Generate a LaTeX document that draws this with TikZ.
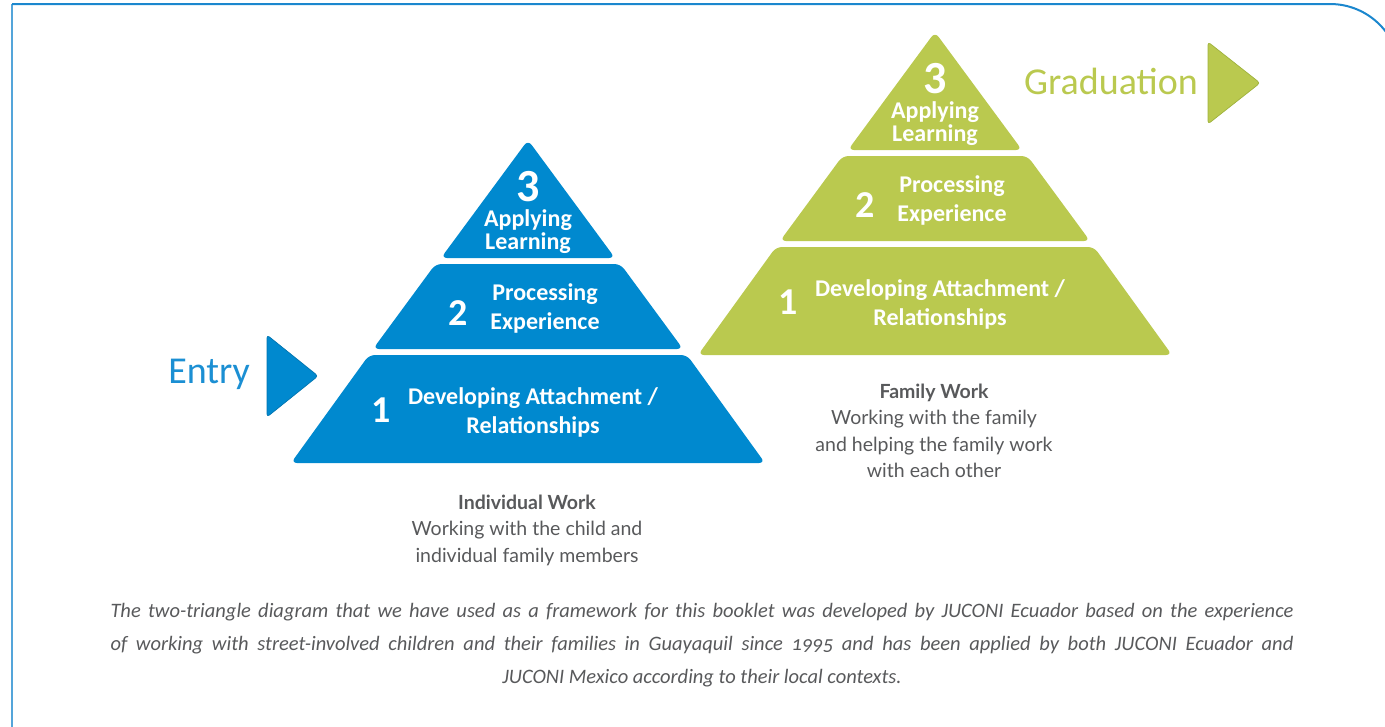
\documentclass[tikz,border=0pt]{standalone}
\usepackage{fontspec}
\setmainfont{Carlito}
\newfontfamily\latofont{Lato}
\usetikzlibrary{positioning}

\definecolor{jblue}{HTML}{0089CF}
\definecolor{jbluetext}{HTML}{1B8FD3}
\definecolor{jgreen}{HTML}{BAC94F}
\definecolor{jgreenline}{HTML}{9FB23C}
\definecolor{jframe}{HTML}{1B87CE}
\definecolor{jgray}{HTML}{58595B}

\begin{document}
\begin{tikzpicture}[x=1pt,y=-1pt,
    tier/.style={rounded corners=6pt},
    tiertext/.style={text=white,font=\fontsize{24}{29}\selectfont\bfseries,align=center},
    toptext/.style={text=white,font=\fontsize{24}{23}\selectfont\bfseries,align=center},
    tiernum/.style={text=white,font=\fontsize{38}{38}\selectfont\bfseries},
    topnum/.style={text=white,font=\fontsize{46}{46}\selectfont\bfseries},
    worktext/.style={text=jgray,font=\latofont\fontsize{19.5}{26.5}\selectfont,align=center},
    pointer/.style={line width=0.7pt,rounded corners=3pt}]

    \useasboundingbox (0,0) rectangle (1385,726);
    \clip (0,0) rectangle (1385,726);

    % frame
    \draw[jframe!75,line width=2.5pt] (12,740) -- (12,4);
    \draw[jframe,line width=2pt] (12,4) -- (1330,4)
        .. controls (1368.7,4) and (1400,35.3) .. (1400,74) -- (1400,760);

    % individual work pyramid
    \begin{scope}[shift={(528,150)}]
        \fill[jblue,tier] (0,-10) -- (87,108) -- (-87,108) -- cycle;
        \fill[jblue,tier] (-92.5,114) -- (92.5,114) -- (155,199) -- (-155,199) -- cycle;
        \fill[jblue,tier] (-159,205) -- (159,205) -- (237,313) -- (-237,313) -- cycle;

        \node[topnum] (bnum3) at (0,37) {3};
        \node[toptext] (blearn) at (0,82) {Applying\\Learning};
        \node[tiernum] (bnum2) at (-70,163) {2};
        \node[tiertext] (bproc) at (17,158) {Processing\\Experience};
        \node[tiernum] (bnum1) at (-147,260) {1};
        \node[tiertext] (battach) at (5,262) {Developing Attachment /\\Relationships};
    \end{scope}

    % family work pyramid
    \begin{scope}[shift={(935,42)}]
        \fill[jgreen,tier] (0,-10) -- (87,108) -- (-87,108) -- cycle;
        \fill[jgreen,tier] (-92.5,114) -- (92.5,114) -- (155,199) -- (-155,199) -- cycle;
        \fill[jgreen,tier] (-159,205) -- (159,205) -- (237,313) -- (-237,313) -- cycle;

        \node[topnum] (gnum3) at (0,37) {3};
        \node[toptext] (glearn) at (0,82) {Applying\\Learning};
        \node[tiernum] (gnum2) at (-70,163) {2};
        \node[tiertext] (gproc) at (17,158) {Processing\\Experience};
        \node[tiernum] (gnum1) at (-147,260) {1};
        \node[tiertext] (gattach) at (5,262) {Developing Attachment /\\Relationships};
    \end{scope}

    % entry and graduation pointers
    \filldraw[pointer,fill=jblue,draw=jblue!85!black] (267,335) -- (318,376) -- (267,417) -- cycle;
    \node[anchor=base east,inner sep=0pt,text=jbluetext,font=\fontsize{38}{38}\selectfont] (entry) at (250,383) {Entry};
    \filldraw[pointer,fill=jgreen,draw=jgreenline] (1208,42) -- (1260,83) -- (1208,124) -- cycle;
    \node[anchor=base east,inner sep=0pt,text=jgreen,font=\fontsize{38}{38}\selectfont] (grad) at (1198,94) {Graduation};

    % work descriptions
    \node[worktext] (indiv) at (527,530) {\textbf{Individual Work}\\Working with the child and\\individual family members};
    \node[worktext] (family) at (934,431) {\textbf{Family Work}\\Working with the family\\and helping the family work\\with each other};

    % caption
    \node[text=jgray,font=\fontsize{20.5}{33}\selectfont\itshape,align=center] (caption) at (702,645)
        {\makebox[1183pt][s]{The two-triangle diagram that we have used as a framework for this booklet was developed by JUCONI Ecuador based on the experience}\\
         \makebox[1183pt][s]{of working with street-involved children and their families in Guayaquil since {\addfontfeatures{Numbers=OldStyle}1995} and has been applied by both JUCONI Ecuador and}\\
         JUCONI Mexico according to their local contexts.};
\end{tikzpicture}
\end{document}
